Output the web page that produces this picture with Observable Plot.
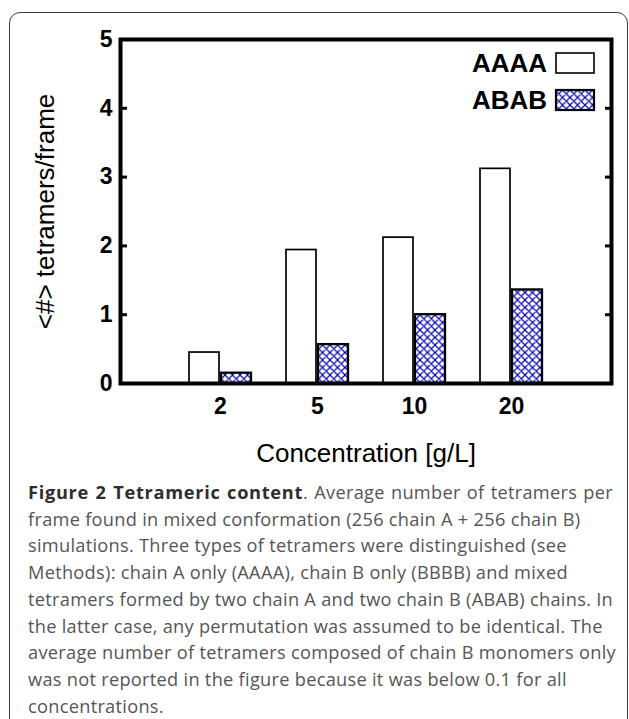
<!DOCTYPE html>
<html><head><meta charset="utf-8">
<script src="https://cdn.jsdelivr.net/npm/d3@7"></script>
<script src="https://cdn.jsdelivr.net/npm/@observablehq/plot@0.6"></script>
<style>
html,body{margin:0;padding:0;background:#fff;}
body{width:629px;height:719px;overflow:hidden;position:relative;font-family:"Liberation Sans",Arial,sans-serif;}
#border{position:absolute;left:9px;top:12px;width:619px;height:800px;box-sizing:border-box;border:1.4px solid #3c3c3c;border-radius:11px;}
#chart{position:absolute;left:0;top:0;}
#legend{position:absolute;left:0;top:0;pointer-events:none;}
#caption{position:absolute;left:28px;top:479px;width:585px;font-family:"Open Sans",sans-serif;font-size:18.2px;letter-spacing:0.29px;line-height:26.7px;color:#555;white-space:nowrap;}
#caption div.first{text-align:justify;text-align-last:justify;white-space:normal;}
#caption b{color:#2e2e2e;font-weight:bold;letter-spacing:0.7px;}
g[aria-label="y-axis label"], g[aria-label="x-axis label"]{font-size:26px;font-weight:normal;}
</style></head><body>
<svg width="0" height="0" style="position:absolute">
  <defs>
    <pattern id="hatch" patternUnits="userSpaceOnUse" width="7.5" height="7.5">
      <rect width="7.5" height="7.5" fill="white"/>
      <path d="M0,0L7.5,7.5M7.5,0L0,7.5M-1,6.5L1,8.5M6.5,-1L8.5,1" stroke="#0606b0" stroke-width="1.2" fill="none"/>
    </pattern>
  </defs>
</svg>
<div id="border"></div>
<div id="chart"></div>
<svg id="legend" width="629" height="130"></svg>
<div id="caption"></div>
<script>
const concentrations = ["2", "5", "10", "20"];
const aaaa = [0.45, 1.94, 2.12, 3.12];
const abab = [0.15, 0.565, 1.0, 1.36];
const seriesNames = ["AAAA", "ABAB"];
const yTicks = [0, 1, 2, 3, 4, 5];
const xLabel = "Concentration [g/L]";
const yLabel = "<#> tetramers/frame";
const captionBold = "Figure 2 Tetrameric content";
const captionLines = [
  ". Average number of tetramers per",
  "frame found in mixed conformation (256 chain A + 256 chain B)",
  "simulations. Three types of tetramers were distinguished (see",
  "Methods): chain A only (AAAA), chain B only (BBBB) and mixed",
  "tetramers formed by two chain A and two chain B (ABAB) chains. In",
  "the latter case, any permutation was assumed to be identical. The",
  "average number of tetramers composed of chain B monomers only",
  "was not reported in the figure because it was below 0.1 for all",
  "concentrations."
];

const rowsA = concentrations.map((c, i) => ({c, s: seriesNames[0], v: aaaa[i]}));
const rowsB = concentrations.map((c, i) => ({c, s: seriesNames[1], v: abab[i]}));

const chart = Plot.plot({
  width: 629,
  height: 475,
  marginLeft: 120,
  marginRight: 18,
  marginTop: 39,
  marginBottom: 92,
  x: {domain: concentrations, paddingInner: 0.362, paddingOuter: 0.697},
  y: {domain: [0, 5]},
  style: {fontFamily: "'Liberation Sans', Arial, sans-serif", color: "#000", background: "transparent", overflow: "visible"},
  marks: [
    Plot.barY(rowsA, {x: "c", y: "v", fill: "white", stroke: "black", strokeWidth: 1.7, insetRight: 32}),
    Plot.barY(rowsB, {x: "c", y: "v", fill: "url(#hatch)", stroke: "black", strokeWidth: 2.3, insetLeft: 32}),
    Plot.axisY(yTicks, {anchor: "left", text: null, tickSize: 7, dx: 7, strokeWidth: 3, label: null}),
    Plot.axisY(yTicks, {anchor: "right", text: null, tickSize: 7, dx: -7, strokeWidth: 3, label: null}),
    Plot.axisY(yTicks, {anchor: "left", tickSize: 0, tickPadding: 8, fontSize: 23, fontWeight: "bold",
      tickFormat: d3.format("d"),
      label: yLabel, labelAnchor: "center", labelOffset: 85, labelArrow: "none"}),
    Plot.axisX({tickSize: 0, tickPadding: 14, fontSize: 23, fontWeight: "bold",
      label: xLabel, labelAnchor: "center", labelOffset: 78, labelArrow: "none"}),
    Plot.frame({stroke: "black", strokeWidth: 4})
  ]
});
document.getElementById("chart").appendChild(chart);

// legend inside the frame (top-right)
const leg = d3.select("#legend");
const legFills = ["white", "url(#hatch)"];
const legStroke = [1.6, 2.2];
seriesNames.forEach((name, i) => {
  const cy = 63 + i * 37;
  leg.append("text").attr("x", 547).attr("y", cy).attr("text-anchor", "end").attr("dy", "0.36em")
    .attr("font-family", "'Liberation Sans', Arial, sans-serif").attr("font-weight", "bold").attr("font-size", 26)
    .text(name);
  leg.append("rect").attr("x", 556).attr("y", cy - 10).attr("width", 38).attr("height", 20)
    .attr("fill", legFills[i]).attr("stroke", "black").attr("stroke-width", legStroke[i]);
});

// caption
const cap = d3.select("#caption");
captionLines.forEach((line, i) => {
  const div = cap.append("div");
  if (i === 0) {
    div.attr("class", "first");
    div.append("b").text(captionBold);
  }
  div.append("span").text(line);
});
</script>
</body></html>
